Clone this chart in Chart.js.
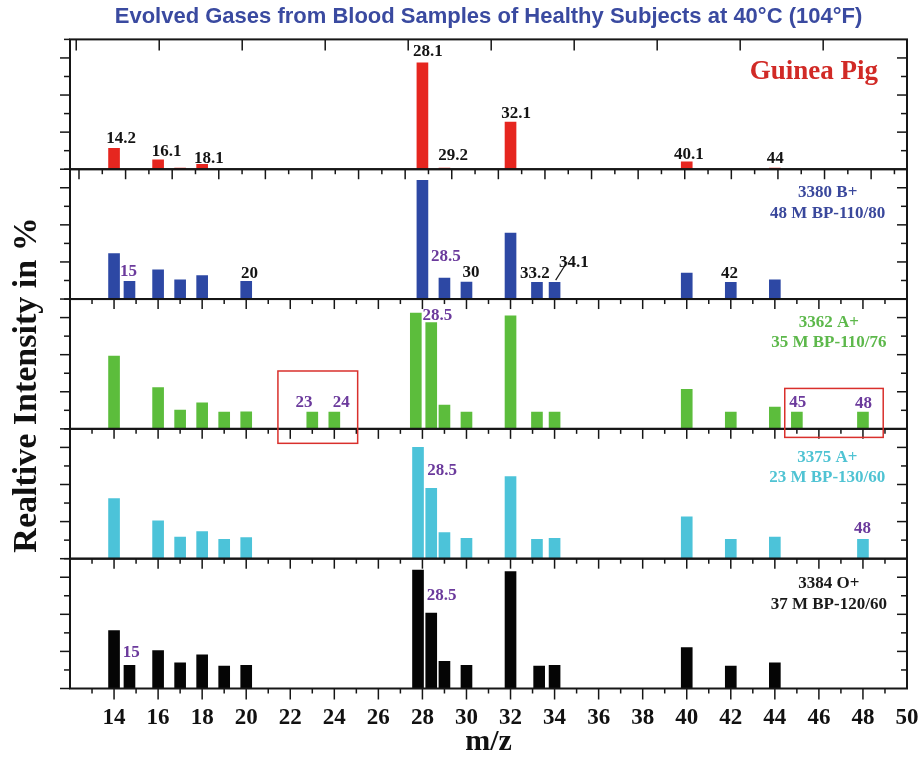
<!DOCTYPE html>
<html>
<head>
<meta charset="utf-8">
<script src="https://cdn.jsdelivr.net/npm/chart.js@4.4.0/dist/chart.umd.min.js"></script>
<style>
  html, body { margin: 0; padding: 0; background: #fff; }
  #wrap { width: 922px; height: 765px; position: relative; }
</style>
</head>
<body>
<div id="wrap"><canvas id="gases"></canvas></div>
<script>
// bottom axis labels (m/z)
const mzTicks = [14, 16, 18, 20, 22, 24, 26, 28, 30, 32, 34, 36, 38, 40, 42, 44, 46, 48, 50];

// Guinea pig
const guineaMz = [14, 16, 17, 18, 28, 29, 32, 40, 44];
const guineaInt = [1.13, 0.51, 0.06, 0.27, 5.74, 0.06, 2.54, 0.4, 0.06];

// 3380 B+, 48 M
const bPosMz = [14, 14.7, 16, 17, 18, 20, 28, 29, 30, 32, 33.2, 34, 40, 42, 44];
const bPosInt = [2.45, 0.96, 1.57, 1.03, 1.26, 0.96, 6.4, 1.13, 0.92, 3.55, 0.9, 0.9, 1.4, 0.9, 1.03];

// 3362 A+, 35 M
const a1Mz = [14, 16, 17, 18, 19, 20, 23, 24, 27.7, 28.4, 29, 30, 32, 33.2, 34, 40, 42, 44, 45, 48];
const a1Int = [3.93, 2.22, 1.01, 1.41, 0.9, 0.92, 0.9, 0.9, 6.24, 5.73, 1.28, 0.9, 6.09, 0.9, 0.9, 2.13, 0.9, 1.17, 0.9, 0.9];

// 3375 A+, 23 M
const a2Mz = [14, 16, 17, 18, 19, 20, 27.8, 28.4, 29, 30, 32, 33.2, 34, 40, 42, 44, 48];
const a2Int = [3.24, 2.04, 1.17, 1.46, 1.05, 1.14, 6.0, 3.8, 1.41, 1.1, 4.43, 1.05, 1.1, 2.25, 1.05, 1.17, 1.05];

// 3384 O+, 37 M
const oPosMz = [14, 14.7, 16, 17, 18, 19, 20, 27.8, 28.4, 29, 30, 32, 33.3, 34, 40, 42, 44];
const oPosInt = [3.12, 1.25, 2.05, 1.39, 1.82, 1.21, 1.25, 6.38, 4.07, 1.46, 1.25, 6.3, 1.21, 1.25, 2.2, 1.21, 1.39];

// peak tags: text, m/z, height, purple?
const guineaTags = [["14.2", 14.32, 1.66], ["16.1", 16.39, 0.94], ["18.1", 18.31, 0.59], ["28.1", 28.25, 6.32],
  ["29.2", 29.39, 0.72], ["32.1", 32.25, 3.0], ["40.1", 40.1, 0.81], ["44", 44.02, 0.56]];
const bPosTags = [["15", 14.66, 1.47, 1], ["20", 20.15, 1.39], ["28.5", 29.07, 2.31, 1], ["30", 30.2, 1.44],
  ["33.2", 33.11, 1.39], ["34.1", 34.88, 1.98], ["42", 41.94, 1.39]];
const a1Tags = [["28.5", 28.68, 6.12, 1], ["23", 22.62, 1.44, 1], ["24", 24.32, 1.44, 1], ["45", 45.04, 1.44, 1], ["48", 48.03, 1.36, 1]];
const a2Tags = [["28.5", 28.89, 4.74, 1], ["48", 47.98, 1.63, 1]];
const oPosTags = [["28.5", 28.87, 5.0, 1], ["15", 14.78, 1.92, 1]];

const SERIF = '"Liberation Serif", "Times New Roman", serif';

const panels = [
  { axis: "y1", mz: guineaMz, val: guineaInt, tags: guineaTags, color: "#e6261f", text: "#d12a26",
    name: ["Guinea Pig"], namePos: [[45.77, 5.23]], nameSize: 27, top: "xa" },
  { axis: "y2", mz: bPosMz, val: bPosInt, tags: bPosTags, color: "#2d48a4", text: "#3a489c",
    name: ["3380 B+", "48 M BP-110/80"], namePos: [[46.4, 5.73], [46.4, 4.62]], nameSize: 17, top: "xb" },
  { axis: "y3", mz: a1Mz, val: a1Int, tags: a1Tags, color: "#5cbd3c", text: "#5db84b",
    name: ["3362 A+", "35 M BP-110/76"], namePos: [[46.45, 5.73], [46.45, 4.65]], nameSize: 17, top: "x" },
  { axis: "y4", mz: a2Mz, val: a2Int, tags: a2Tags, color: "#4cc3d9", text: "#4fc3d3",
    name: ["3375 A+", "23 M BP-130/60"], namePos: [[46.38, 5.46], [46.38, 4.38]], nameSize: 17, top: "x" },
  { axis: "y5", mz: oPosMz, val: oPosInt, tags: oPosTags, color: "#050505", text: "#1a1a1a",
    name: ["3384 O+", "37 M BP-120/60"], namePos: [[46.45, 5.63], [46.45, 4.52]], nameSize: 17, top: "x" },
];

// red highlight boxes: m/z from-to, top (axis, value), bottom (axis, value)
const boxes = [
  [21.44, 25.06, "y3", 3.12, "y4", 6.22],
  [44.45, 48.92, "y3", 2.18, "y4", 6.54],
];
// leader from the 34 peak to its tag
const leaders = [["y2", 34.05, 1.02, 34.57, 2.0]];

const decor = {
  id: "decor",
  afterDraw(chart) {
    const { ctx, chartArea: area, scales } = chart;
    const x = scales.x;
    const seg = (x0, y0, x1, y1) => {
      ctx.beginPath();
      ctx.moveTo(x0, y0);
      ctx.lineTo(x1, y1);
      ctx.stroke();
    };
    ctx.save();
    ctx.strokeStyle = "#161616";

    panels.forEach((p) => {
      const y = scales[p.axis];
      const top = y.getPixelForValue(y.max);
      const base = y.getPixelForValue(0);
      ctx.lineWidth = 1.5;
      for (let v = 0; v <= 7; v++) {
        const py = y.getPixelForValue(v);
        const len = v % 2 ? 6 : 10;
        seg(area.left - len, py, area.left, py);
        if (v > 0 && v < 7) seg(area.right - len, py, area.right, py);
      }
      const s = scales[p.top];
      for (let k = Math.ceil(s.min); k <= s.max; k++) {
        const px = s.getPixelForValue(k);
        if (px < area.left + 3 || px > area.right - 3) continue;
        const len = p.top === "xa" ? 11 : (k % 2 ? 5 : 10);
        seg(px, top, px, top + len);
      }
      ctx.lineWidth = 2;
      ctx.strokeRect(area.left, top, area.right - area.left, base - top);

      // peak tags
      ctx.textAlign = "center";
      ctx.textBaseline = "middle";
      ctx.font = "bold 17px " + SERIF;
      p.tags.forEach((t) => {
        ctx.fillStyle = t[3] ? "#6b3a9c" : "#141414";
        ctx.fillText(t[0], x.getPixelForValue(t[1]), y.getPixelForValue(t[2]));
      });

      // sample name
      ctx.fillStyle = p.text;
      ctx.font = "bold " + p.nameSize + "px " + SERIF;
      p.name.forEach((line, i) => {
        ctx.fillText(line, x.getPixelForValue(p.namePos[i][0]), y.getPixelForValue(p.namePos[i][1]));
      });
    });

    // bottom axis ticks
    ctx.strokeStyle = "#161616";
    ctx.lineWidth = 1.5;
    for (let m = 13; m < 50; m++) {
      const px = x.getPixelForValue(m);
      seg(px, area.bottom, px, area.bottom + (m % 2 ? 5 : 11));
    }

    leaders.forEach((l) => {
      const y = scales[l[0]];
      ctx.lineWidth = 1.2;
      seg(x.getPixelForValue(l[1]), y.getPixelForValue(l[2]), x.getPixelForValue(l[3]), y.getPixelForValue(l[4]));
    });

    ctx.strokeStyle = "#d9302c";
    ctx.lineWidth = 1.5;
    boxes.forEach((b) => {
      const x0 = x.getPixelForValue(b[0]);
      const x1 = x.getPixelForValue(b[1]);
      const y0 = scales[b[2]].getPixelForValue(b[3]);
      const y1 = scales[b[4]].getPixelForValue(b[5]);
      ctx.strokeRect(x0, y0, x1 - x0, y1 - y0);
    });

    // y axis caption
    ctx.translate(27, 385);
    ctx.rotate(-Math.PI / 2);
    ctx.fillStyle = "#111";
    ctx.font = "bold 34px " + SERIF;
    ctx.textAlign = "center";
    ctx.textBaseline = "middle";
    ctx.fillText("Realtive Intensity in %", 0, 0);
    ctx.restore();
  },
};

// no extra room for the "50" label, it may hang over the frame
const noSidePadding = (scale) => {
  scale.paddingLeft = 0;
  scale.paddingRight = 0;
};

// stacked axes are laid out bottom-up, so declare the lowest panel first
const yScales = {};
panels.slice().reverse().forEach((p) => {
  yScales[p.axis] = { type: "linear", position: "left", min: 0, max: 7, stack: "panels", stackWeight: 1, display: false };
});

const config = {
  type: "bar",
  data: {
    datasets: panels.map((p) => ({
      label: p.name.join(" "),
      data: p.mz.map((m, i) => ({ x: m, y: p.val[i] })),
      xAxisID: "x",
      yAxisID: p.axis,
      backgroundColor: p.color,
      borderWidth: 0,
      barThickness: 11,
      grouped: false,
    })),
  },
  options: {
    responsive: true,
    maintainAspectRatio: false,
    animation: false,
    layout: { padding: { left: 70, right: 15, top: 0, bottom: 0 } },
    plugins: {
      legend: { display: false },
      tooltip: { enabled: false },
      title: {
        display: true,
        text: "Evolved Gases from Blood Samples of Healthy Subjects at 40°C (104°F)",
        color: "#3a4aa0",
        font: { family: '"Liberation Sans", Arial, sans-serif', size: 22, weight: "bold", lineHeight: 1.2 },
        padding: { top: 4, bottom: 9 },
      },
    },
    scales: {
      x: {
        type: "linear",
        position: "bottom",
        offset: false,
        min: 12,
        max: 50,
        afterBuildTicks: (scale) => {
          scale.ticks = mzTicks.map((v) => ({ value: v }));
        },
        afterFit: noSidePadding,
        grid: { display: false, drawTicks: false, offset: false },
        border: { display: false },
        ticks: {
          color: "#111",
          padding: 18,
          maxRotation: 0,
          autoSkip: false,
          font: { family: SERIF, size: 23, weight: "bold", lineHeight: 1.0 },
        },
        title: {
          display: true,
          text: "m/z",
          color: "#111",
          font: { family: SERIF, size: 30, weight: "bold", lineHeight: 1.0 },
          padding: { top: -20.5, bottom: 8 },
        },
      },
      xa: { type: "linear", position: "top", offset: false, min: -0.075, max: 10.01, display: false, afterFit: noSidePadding },
      xb: { type: "linear", position: "top", offset: false, min: -0.386, max: 35.54, display: false, afterFit: noSidePadding },
      ...yScales,
    },
  },
  plugins: [decor],
};

const gasChart = new Chart(document.getElementById("gases"), config);
</script>
</body>
</html>
